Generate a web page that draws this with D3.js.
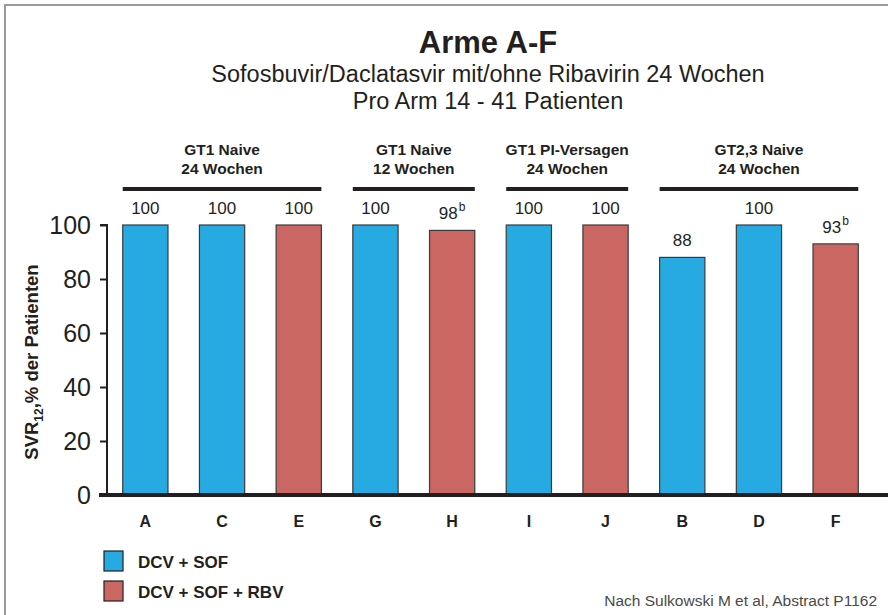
<!DOCTYPE html>
<html>
<head>
<meta charset="utf-8">
<script src="https://cdn.jsdelivr.net/npm/d3@7"></script>
<style>
	body { margin: 0; background: white; }
	svg { display: block; }
</style>
</head>
<body>
<script>
// data
var arms = ["A", "C", "E", "G", "H", "I", "J", "B", "D", "F"];
var svr = [100, 100, 100, 100, 98, 100, 100, 88, 100, 93];
var regimen = ["sof", "sof", "rbv", "sof", "rbv", "sof", "rbv", "sof", "sof", "rbv"];
var footnote = ["", "", "", "", "b", "", "", "", "", "b"];
var yTicks = [0, 20, 40, 60, 80, 100];

var groupLines1 = ["GT1 Naive", "GT1 Naive", "GT1 PI-Versagen", "GT2,3 Naive"];
var groupLines2 = ["24 Wochen", "12 Wochen", "24 Wochen", "24 Wochen"];
var groupFirst = ["A", "G", "I", "B"];
var groupLast = ["E", "H", "J", "F"];

var legendKeys = ["sof", "rbv"];
var legendLabels = ["DCV + SOF", "DCV + SOF + RBV"];

var colors = {sof: "#26aae1", rbv: "#cb6762"};

var width = 888, height = 615;
var font = "'Liberation Sans', Arial, Helvetica, sans-serif";

var svg = d3.select("body").append("svg")
	.attr("width", width)
	.attr("height", height)
	.style("font-family", font)

// frame
svg.append("path")
	.attr("d", "M5," + height + "V5H" + width)
	.attr("fill", "none")
	.attr("stroke", "#9a9a9a")
	.attr("stroke-width", 2)

var x = d3.scaleBand()
	.domain(arms)
	.range([107, 874])
	.paddingInner(0.41)
	.paddingOuter(0.205)

var y = d3.scaleLinear()
	.domain([0, 100])
	.range([495, 225])

// titles
svg.append("text")
	.attr("x", 488).attr("y", 53)
	.attr("text-anchor", "middle")
	.attr("font-size", 31)
	.attr("font-weight", "bold")
	.attr("fill", "#231f20")
	.text("Arme A-F")

svg.append("text")
	.attr("x", 488).attr("y", 82)
	.attr("text-anchor", "middle")
	.attr("font-size", 23.5)
	.attr("fill", "#231f20")
	.text("Sofosbuvir/Daclatasvir mit/ohne Ribavirin 24 Wochen")

svg.append("text")
	.attr("x", 488).attr("y", 109)
	.attr("text-anchor", "middle")
	.attr("font-size", 23.5)
	.attr("fill", "#231f20")
	.text("Pro Arm 14 - 41 Patienten")

// y axis
var yAxis = svg.append("g")
	.attr("transform", "translate(107,0)")
	.call(d3.axisLeft(y).tickValues(yTicks).tickSize(7).tickPadding(9))

yAxis.select(".domain").attr("stroke", "#231f20").attr("stroke-width", 2)
	.attr("d", "M-7," + y(100) + "H0V" + y(0))
yAxis.selectAll(".tick line").attr("stroke", "#231f20").attr("stroke-width", 2)
yAxis.selectAll(".tick text")
	.attr("font-size", 25)
	.attr("font-family", font)
	.attr("fill", "#231f20")

// y title
var yTitle = svg.append("text")
	.attr("transform", "translate(38,362) rotate(-90)")
	.attr("text-anchor", "middle")
	.attr("font-size", 18.5)
	.attr("font-weight", "bold")
	.attr("fill", "#231f20")
yTitle.append("tspan").text("SVR")
yTitle.append("tspan").attr("font-size", 12).attr("dy", 5).text("12")
yTitle.append("tspan").attr("dy", -5).text(",% der Patienten")

// bars
var bars = svg.append("g")
bars.selectAll("rect")
	.data(arms)
	.join("rect")
	.attr("x", d => x(d))
	.attr("y", (d, i) => y(svr[i]))
	.attr("width", x.bandwidth())
	.attr("height", (d, i) => y(0) - y(svr[i]))
	.attr("fill", (d, i) => colors[regimen[i]])
	.attr("stroke", "#3a3a3a")
	.attr("stroke-width", 1.2)

// value labels
var labels = svg.append("g")
	.selectAll("text")
	.data(arms)
	.join("text")
	.attr("x", d => x(d) + x.bandwidth() / 2)
	.attr("y", (d, i) => y(svr[i]) - 11)
	.attr("text-anchor", "middle")
	.attr("font-size", 17)
	.attr("fill", "#231f20")
labels.append("tspan").text((d, i) => svr[i])
labels.append("tspan")
	.attr("font-size", 12)
	.attr("dy", -8)
	.attr("dx", 1)
	.text((d, i) => footnote[i])

// x axis
var xAxis = svg.append("g")
	.attr("transform", "translate(0,495)")
	.call(d3.axisBottom(x).tickSize(0).tickPadding(21))
xAxis.select(".domain")
	.attr("d", "M99,0H888")
	.attr("stroke", "#231f20")
	.attr("stroke-width", 4)
xAxis.selectAll(".tick text")
	.attr("font-size", 16)
	.attr("font-weight", "bold")
	.attr("font-family", font)
	.attr("fill", "#231f20")

// group brackets
var groups = svg.append("g")
	.selectAll("g")
	.data(groupFirst)
	.join("g")

groups.append("line")
	.attr("x1", d => x(d))
	.attr("x2", (d, i) => x(groupLast[i]) + x.bandwidth())
	.attr("y1", 189)
	.attr("y2", 189)
	.attr("stroke", "#231f20")
	.attr("stroke-width", 4)

var groupText = groups.append("text")
	.attr("text-anchor", "middle")
	.attr("font-size", 15.5)
	.attr("font-weight", "bold")
	.attr("fill", "#231f20")
	.attr("transform", (d, i) => "translate(" + ((x(d) + x(groupLast[i]) + x.bandwidth()) / 2) + ",0)")
groupText.append("tspan").attr("x", 0).attr("y", 155).text((d, i) => groupLines1[i])
groupText.append("tspan").attr("x", 0).attr("y", 174).text((d, i) => groupLines2[i])

// legend
var legend = svg.append("g")
	.selectAll("g")
	.data(legendKeys)
	.join("g")
	.attr("transform", (d, i) => "translate(104," + (551 + i * 30) + ")")
legend.append("rect")
	.attr("width", 19)
	.attr("height", 20)
	.attr("fill", d => colors[d])
	.attr("stroke", "#231f20")
	.attr("stroke-width", 1.2)
legend.append("text")
	.attr("x", 34)
	.attr("y", 16.5)
	.attr("font-size", 17)
	.attr("font-weight", "bold")
	.attr("fill", "#231f20")
	.text((d, i) => legendLabels[i])

// source
svg.append("text")
	.attr("x", 877)
	.attr("y", 606)
	.attr("text-anchor", "end")
	.attr("font-size", 15.5)
	.attr("fill", "#4a4a4a")
	.text("Nach Sulkowski M et al, Abstract P1162")
</script>
</body>
</html>
